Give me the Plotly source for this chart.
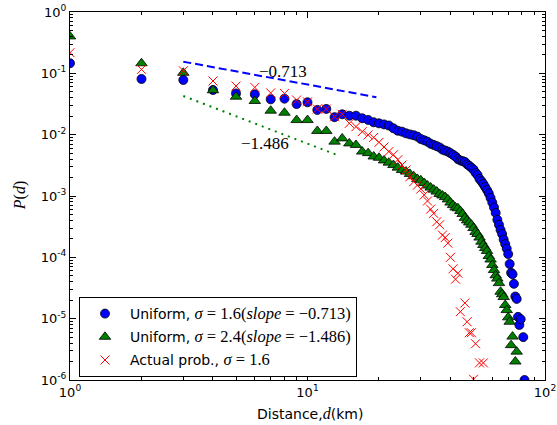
import plotly.graph_objects as go

# ---------------- data ----------------
d_sigma16 = list(range(1, 80)) + [81, 82]
p_sigma16 = [0.146, 0.081, 0.078, 0.0535, 0.047, 0.0455, 0.0377, 0.0386, 0.0316, 0.0337,
             0.0253, 0.0263, 0.0193, 0.0215, 0.0204, 0.0204, 0.0185, 0.0174, 0.0159, 0.0153,
             0.0147, 0.0141, 0.0127, 0.0116, 0.0112, 0.0105, 0.0101, 0.0098, 0.0093, 0.0085,
             0.0081, 0.0077, 0.0071, 0.0068, 0.0065, 0.0062, 0.0057, 0.0055, 0.0053, 0.0050,
             0.0047, 0.0044, 0.0040, 0.0038, 0.0037, 0.0036, 0.0033, 0.0031, 0.0029, 0.0027,
             0.0024, 0.0022, 0.0019, 0.00174, 0.00157, 0.0014, 0.00125, 0.0011, 0.00093, 0.00078,
             0.00065, 0.00053, 0.00041, 0.00034, 0.00028, 0.00024, 0.000195, 0.000165, 0.000139, 0.000113,
             7.8e-5, 5.6e-5, 5.3e-5, 3.7e-5, 2.3e-5, 2.1e-5, 1.07e-5, 7.9e-6, 9.8e-6,
             5e-6, 1e-6]

d_sigma24 = list(range(1, 74)) + [75, 76]
p_sigma24 = [0.40, 0.146, 0.102, 0.053, 0.0416, 0.0354, 0.0246, 0.0228, 0.0173, 0.0173,
             0.0115, 0.0115, 0.0077, 0.0087, 0.0072, 0.0068, 0.0053, 0.0050, 0.0044, 0.0042,
             0.0038, 0.0035, 0.0032, 0.0029, 0.00265, 0.0025, 0.00229, 0.0021, 0.0019, 0.0018,
             0.00163, 0.00148, 0.00137, 0.00127, 0.00118, 0.00108, 0.00102, 0.00096, 0.00088, 0.00078,
             0.00071, 0.00065, 0.00063, 0.00057, 0.00051, 0.00044, 0.00040, 0.00037, 0.00034, 0.00030,
             0.00026, 0.00024, 0.00021, 0.00018, 0.000159, 0.000142, 0.000127, 0.000105, 9.2e-5, 7.5e-5,
             6.2e-5, 5.1e-5, 4.5e-5, 3.8e-5, 2.75e-5, 2.5e-5, 2.25e-5, 1.67e-5, 1.38e-5, 1.05e-5,
             8.9e-6, 3.7e-6, 5.1e-6,
             2.0e-6, 2.9e-6]

d_actual = list(range(1, 45)) + [46, 47, 48, 49, 50, 51, 53, 55]
p_actual = [0.217, 0.116, 0.110, 0.075, 0.062, 0.059, 0.048, 0.047, 0.0367, 0.0343,
            0.0262, 0.0262, 0.0196, 0.0215, 0.0153, 0.0135, 0.0112, 0.0099, 0.0090, 0.0075,
            0.0063, 0.0053, 0.0047, 0.0039, 0.0032, 0.00265, 0.00206, 0.00171, 0.0015, 0.0013,
            0.00104, 0.00083, 0.00061, 0.00052, 0.00038, 0.00034, 0.00023, 0.00021, 0.00017, 0.0001,
            6.5e-5, 4.4e-5, 5.5e-5, 1.3e-5,
            1.8e-5, 8.9e-6, 5.9e-6, 5.9e-6, 1.03e-6, 3.9e-6, 1.9e-6, 1.9e-6]

# power-law guide lines: (d range, value at start, slope)
fit16_d = [3, 19.5]
fit16_p0 = 0.155
fit16_slope = -0.713
fit24_d = [3, 13.7]
fit24_p0 = 0.0427
fit24_slope = -1.486

x_tickvals = [1, 10, 100]
x_ticktext = ["10<sup>0</sup>", "10<sup>1</sup>", "10<sup>2</sup>"]
y_tickvals = [1e-6, 1e-5, 1e-4, 1e-3, 1e-2, 1e-1, 1]
y_ticktext = ["10<sup>-6</sup>", "10<sup>-5</sup>", "10<sup>-4</sup>", "10<sup>-3</sup>",
              "10<sup>-2</sup>", "10<sup>-1</sup>", "10<sup>0</sup>"]

SANS = "DejaVu Sans"
SERIF = "Liberation Serif"


def m(s, size=None):
    st = f"font-family:'{SERIF}'"
    if size:
        st += f";font-size:{size}px"
    return f"<span style=\"{st}\">{s}</span>"


fit16_y = [fit16_p0 * (d / fit16_d[0]) ** fit16_slope for d in fit16_d]
fit24_y = [fit24_p0 * (d / fit24_d[0]) ** fit24_slope for d in fit24_d]

fig = go.Figure()
fig.add_trace(go.Scatter(x=fit16_d, y=fit16_y, mode="lines", showlegend=False,
                         line=dict(color="#0000ff", width=2, dash="8px,4px")))
fig.add_trace(go.Scatter(x=fit24_d, y=fit24_y, mode="lines", showlegend=False,
                         line=dict(color="#008000", width=2, dash="2px,5px")))

fig.add_trace(go.Scatter(
    x=d_sigma16, y=p_sigma16, mode="markers", legendgroup="a",
    name="Uniform, " + m("<i>σ</i> = 1.6(<i>slope</i> = −0.713)", 16.5),
    marker=dict(symbol="circle", size=9, color="#0000ff", line=dict(color="black", width=0.8))))
fig.add_trace(go.Scatter(
    x=d_sigma24, y=p_sigma24, mode="markers", legendgroup="b",
    name="Uniform, " + m("<i>σ</i> = 2.4(<i>slope</i> = −1.486)", 16.5),
    marker=dict(symbol="triangle-up", size=10, color="#008000", line=dict(color="black", width=0.8))))
fig.add_trace(go.Scatter(
    x=d_actual, y=p_actual, mode="markers", legendgroup="c",
    name="Actual prob., " + m("<i>σ</i> = 1.6", 16.5),
    marker=dict(symbol="x-thin-open", size=9, color="#ff0000", line=dict(color="#ff0000", width=1))))

fig.add_annotation(x=0.897, y=-0.962, xref="x", yref="y", text=m("−0.713"), showarrow=False,
                   font=dict(size=17, color="black"))
fig.add_annotation(x=0.821, y=-2.136, xref="x", yref="y", text=m("−1.486"), showarrow=False,
                   font=dict(size=17, color="black"))

fig.add_annotation(x=(310 - 70) / 475, y=-(413 - 380) / 368, xref="paper", yref="paper",
                   yanchor="middle",
                   text="Distance," + m("<i>d</i>", 16) + "(km)", showarrow=False,
                   font=dict(family=SANS, size=14, color="black"))
fig.add_annotation(x=-0.128, y=0.5, xref="paper", yref="paper", textangle=-90,
                   text=m("<i>P</i>(<i>d</i>)"), showarrow=False,
                   font=dict(size=16, color="black"))

axis_common = dict(showline=True, linecolor="black", linewidth=1, mirror="ticks",
                   ticks="inside", ticklen=6, tickcolor="black", tickwidth=1,
                   showgrid=False, zeroline=False, automargin=False,
                   tickfont=dict(family=SANS, size=13, color="black"))

minor_x = [k * 10 ** e for e in range(0, 2) for k in range(2, 10)]
minor_y = [k * 10.0 ** e for e in range(-6, 0) for k in range(2, 10)]

fig.update_xaxes(type="log", range=[0, 2], tickmode="array", tickvals=x_tickvals,
                 ticktext=x_ticktext,
                 minor=dict(tickmode="array", tickvals=minor_x, ticks="inside", ticklen=3,
                            tickcolor="black", showgrid=False),
                 **axis_common)
fig.update_yaxes(type="log", range=[-6, 0], tickmode="array", tickvals=y_tickvals,
                 ticktext=y_ticktext,
                 minor=dict(tickmode="array", tickvals=minor_y, ticks="inside", ticklen=3,
                            tickcolor="black", showgrid=False),
                 **axis_common)

fig.update_layout(
    width=557, height=425,
    margin=dict(l=70, r=12, t=12, b=45, autoexpand=False),
    paper_bgcolor="white", plot_bgcolor="white",
    font=dict(family=SANS, color="black"),
    legend=dict(x=(79 - 70) / 475, y=(380 - 297) / 368, xanchor="left", yanchor="top",
                bgcolor="white", bordercolor="black", borderwidth=1,
                font=dict(family=SANS, size=14, color="black"),
                itemwidth=40, tracegroupgap=2),
)

fig.write_html("out.html")
